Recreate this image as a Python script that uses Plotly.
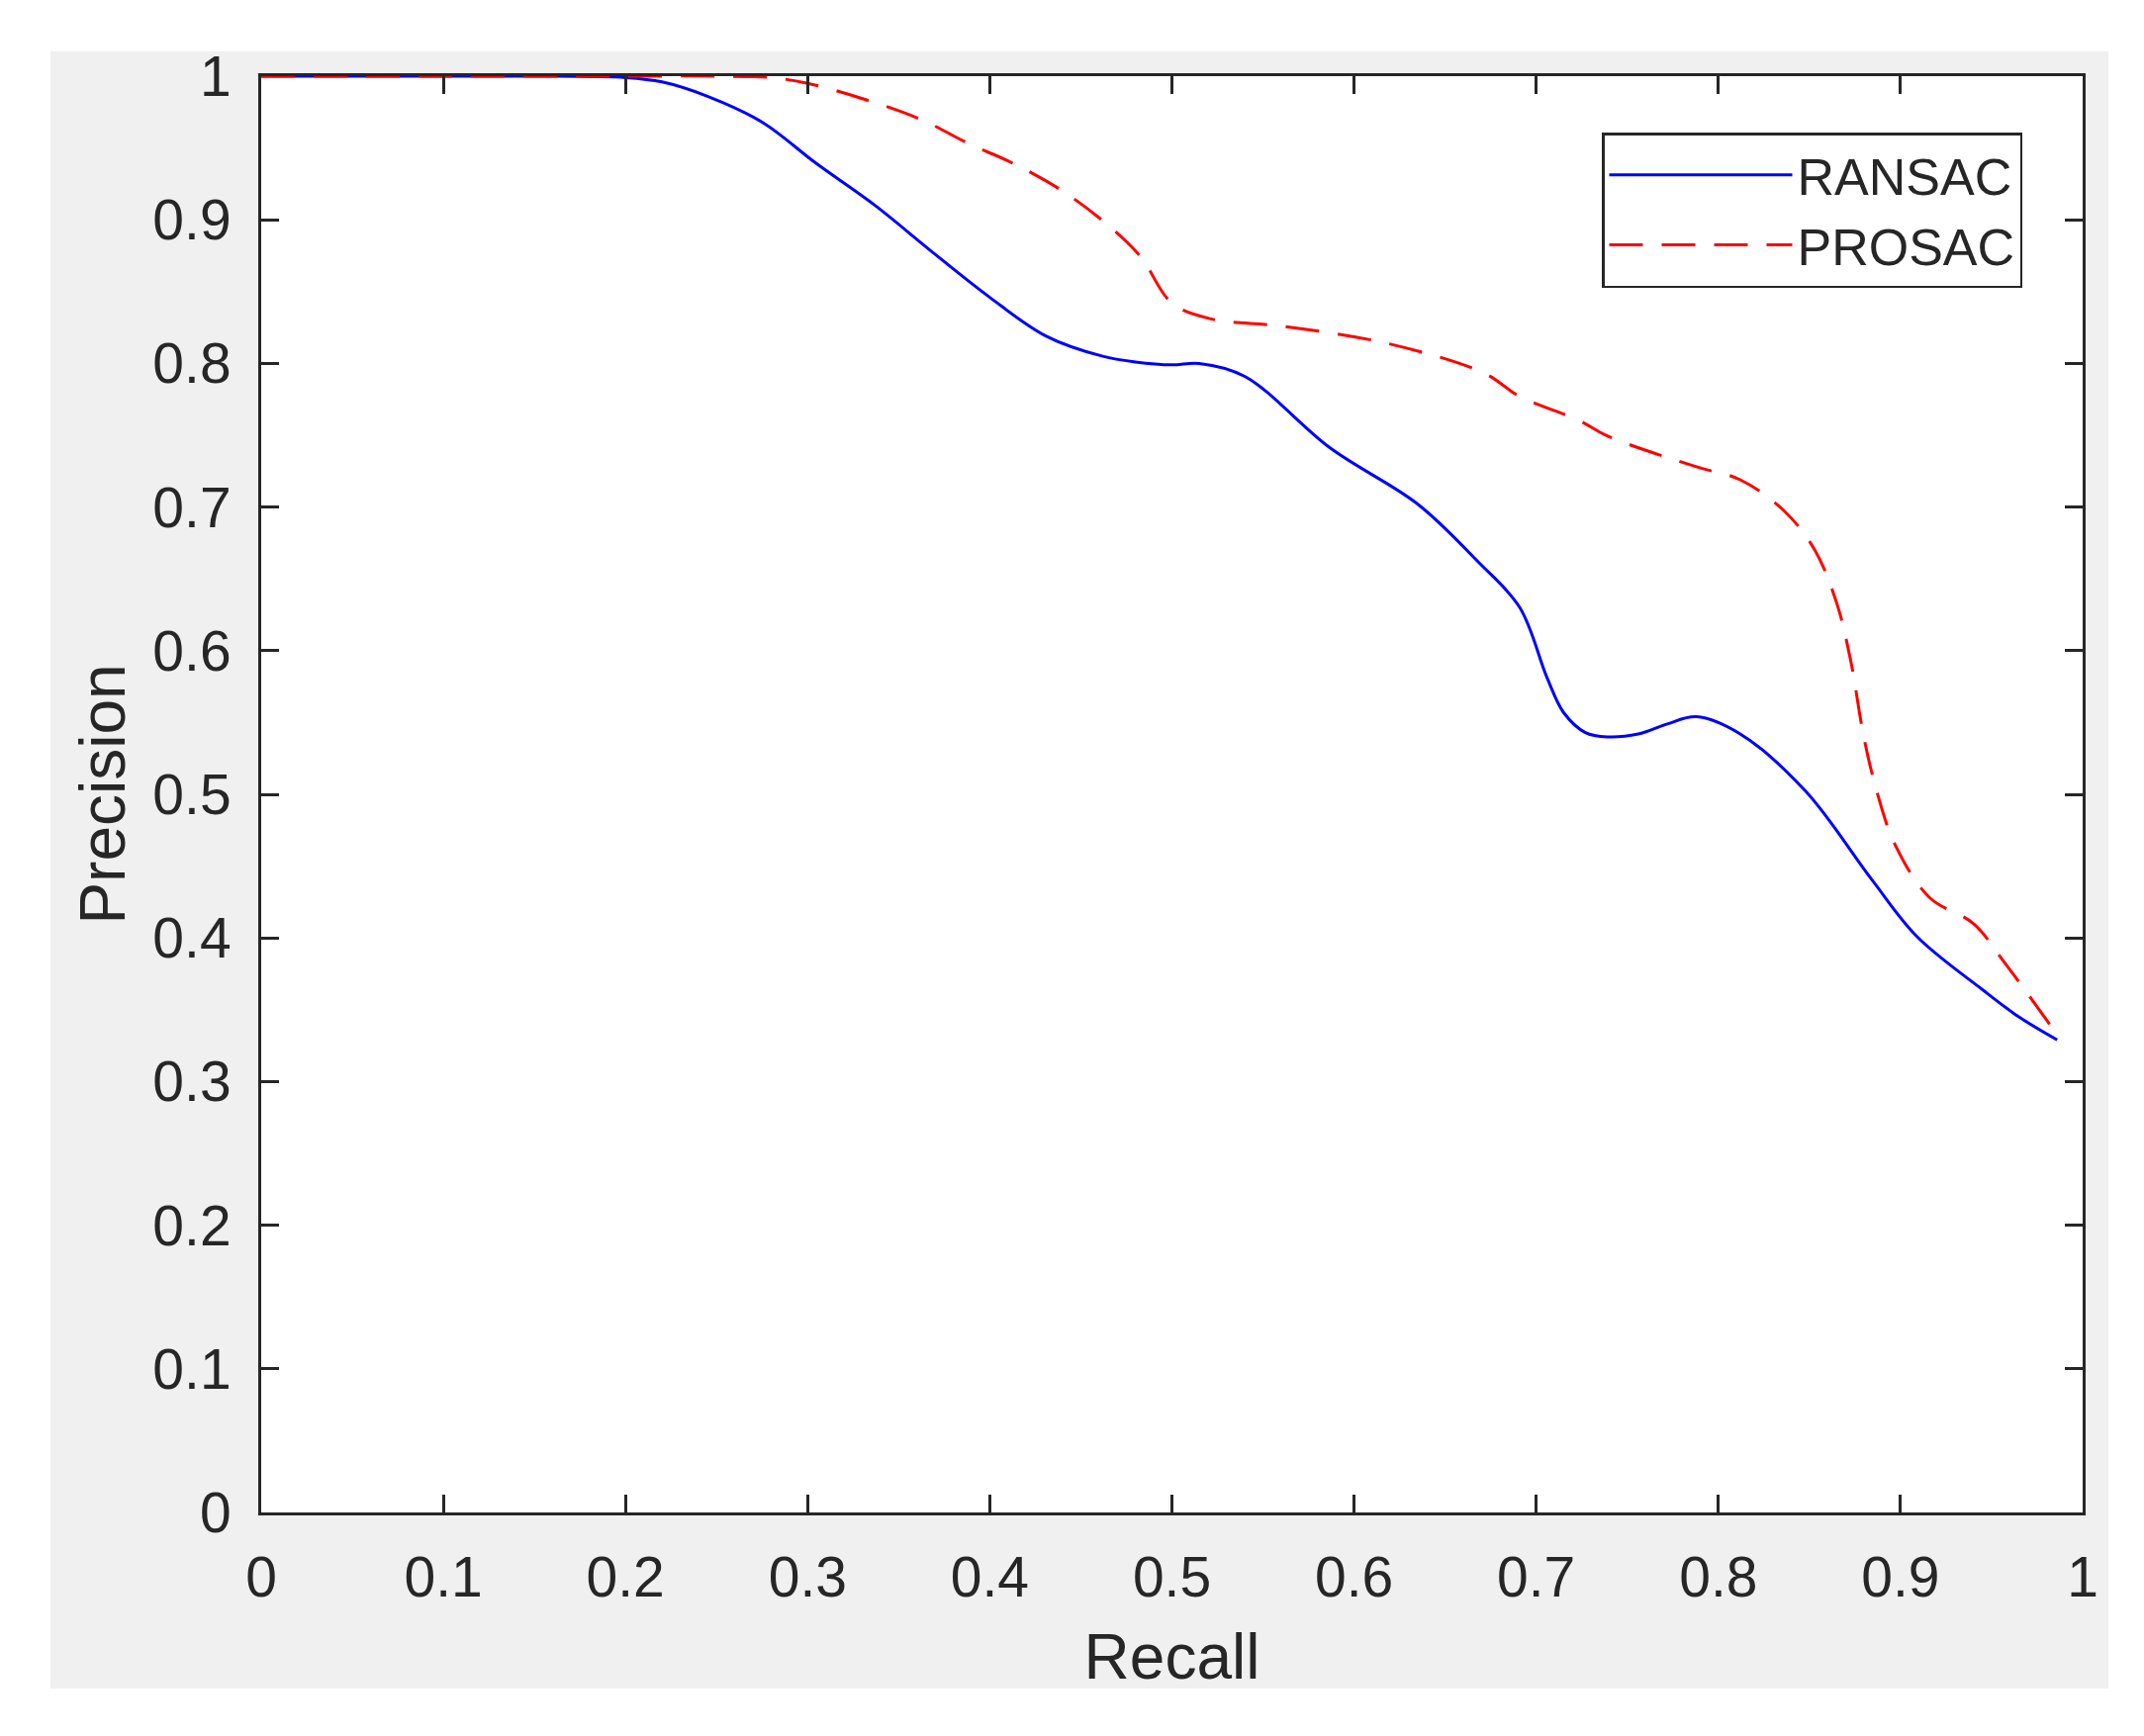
import plotly.graph_objects as go

# ---- data ----
ransac_recall = [0, 0.05, 0.1, 0.15, 0.2, 0.22, 0.245, 0.275, 0.305, 0.337, 0.368, 0.4, 0.431,
                 0.462, 0.48, 0.5, 0.515, 0.54, 0.587, 0.635, 0.668, 0.691, 0.706, 0.715, 0.727,
                 0.739, 0.756, 0.772, 0.788, 0.812, 0.848, 0.884, 0.909, 0.945, 0.965, 0.986]
ransac_precision = [1, 1, 1, 1, 0.999, 0.996, 0.986, 0.968, 0.939, 0.910, 0.878, 0.846, 0.819,
                    0.805, 0.801, 0.799, 0.800, 0.791, 0.741, 0.702, 0.662, 0.630, 0.581, 0.557, 0.543,
                    0.540, 0.542, 0.549, 0.554, 0.542, 0.502, 0.441, 0.401, 0.364, 0.345, 0.329]

prosac_recall = [0, 0.05, 0.1, 0.15, 0.2, 0.25, 0.28, 0.3, 0.331, 0.362, 0.39, 0.41, 0.44, 0.468,
                 0.483, 0.5, 0.5215, 0.56, 0.618, 0.671, 0.691, 0.724, 0.739, 0.788, 0.812, 0.836,
                 0.853, 0.865, 0.8725, 0.88, 0.887, 0.897, 0.916, 0.94, 0.957, 0.983]
prosac_precision = [1, 1, 1, 1, 1, 1, 0.999, 0.995, 0.984, 0.970, 0.952, 0.941, 0.920, 0.893,
                    0.874, 0.842, 0.831, 0.826, 0.814, 0.7935, 0.777, 0.760, 0.7495, 0.728, 0.719, 0.6975,
                    0.670, 0.633, 0.594, 0.539, 0.502, 0.465, 0.428, 0.410, 0.383, 0.338]

tick_vals = [0, 0.1, 0.2, 0.3, 0.4, 0.5, 0.6, 0.7, 0.8, 0.9, 1]
tick_text = ["0", "0.1", "0.2", "0.3", "0.4", "0.5", "0.6", "0.7", "0.8", "0.9", "1"]

W, H = 2167, 1755
L, R, T, B = 264, 2105, 77, 1529   # plot area in pixels
pw, ph = R - L, B - T

FONT = "Liberation Sans, Arial, Helvetica, sans-serif"
AX = "#262626"

fig = go.Figure()
fig.add_trace(go.Scatter(x=ransac_recall, y=ransac_precision, mode="lines", name="RANSAC",
                         line=dict(color="#0000ff", width=3, shape="spline", smoothing=1.0)))
fig.add_trace(go.Scatter(x=prosac_recall, y=prosac_precision, mode="lines", name="PROSAC",
                         line=dict(color="#ff0000", width=3, dash="34px,19px",
                                   shape="spline", smoothing=1.0)))

# grey figure background and white axes background
gx0, gx1, gy0, gy1 = 51, 2131, 52, 1707
fig.add_shape(type="rect", xref="paper", yref="paper", layer="below",
              x0=(gx0 - L) / pw, x1=(gx1 - L) / pw, y0=(B - gy1) / ph, y1=(B - gy0) / ph,
              fillcolor="#f0f0f0", line=dict(width=0))
fig.add_shape(type="rect", xref="paper", yref="paper", layer="below",
              x0=0, x1=1, y0=0, y1=1, fillcolor="#ffffff", line=dict(width=0))

axis_common = dict(range=[0, 1], tickvals=tick_vals, ticktext=tick_text, ticks="inside",
                   ticklen=18, tickwidth=2.5, tickcolor=AX, showline=True, linecolor=AX,
                   linewidth=3, mirror="ticks", showgrid=False, zeroline=False,
                   tickfont=dict(family=FONT, size=57, color=AX))

fig.update_xaxes(**axis_common, ticklabelstandoff=14,
                 title=dict(text="Recall", font=dict(family=FONT, size=64, color=AX), standoff=27))
fig.update_yaxes(**axis_common, ticklabelstandoff=16,
                 title=dict(text="Precision", font=dict(family=FONT, size=64, color=AX), standoff=7))

fig.update_layout(
    width=W, height=H, autosize=False,
    margin=dict(l=L, r=W - R, t=T, b=H - B, pad=0),
    paper_bgcolor="#ffffff", plot_bgcolor="#ffffff",
    showlegend=True,
    legend=dict(x=(1619 - L) / pw, y=(B - 134) / ph, xanchor="left", yanchor="top",
                bgcolor="#ffffff", bordercolor=AX, borderwidth=2.5,
                font=dict(family=FONT, size=52, color=AX), itemwidth=185,
                tracegroupgap=0),
)

fig.write_html("out.html", config={"displayModeBar": False},
               post_script="document.body.style.margin='0';document.body.style.overflow='hidden';")
